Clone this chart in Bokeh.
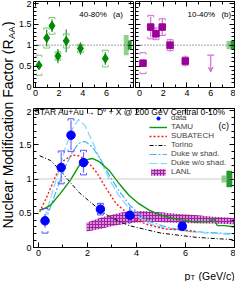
import numpy as np
from bokeh.plotting import figure
from bokeh.layouts import row, column
from bokeh.models import (Range1d, LinearAxis, FixedTicker, CustomJSTickFormatter, Label,
                          Legend, LegendItem, ColumnDataSource, Arrow, VeeHead, TeeHead, Span)
from bokeh.embed import file_html
from bokeh.resources import INLINE

FONT = "Liberation Sans"

# ---------------- data ----------------
# (a) 40-80%
a_pt = [0.3, 0.95, 1.4, 1.9, 2.6, 3.8, 5.9]
a_raa = [0.52, 1.17, 1.46, 0.74, 1.10, 0.92, 0.68]
a_stat = [0.08, 0.20, 0.15, 0.17, 0.27, 0.15, 0.15]
a_sys = [0.24, 0.24, 0.20, 0.10, 0.17, 0.10, 0.20]
a_norm_light = 0.24
a_norm_dark = 0.11

# (b) 10-40%
b_pt = [0.3, 0.95, 1.39, 1.92, 2.58, 3.86]
b_raa = [0.57, 1.43, 1.27, 1.43, 1.00, 0.62]
b_stat = [0.08, 0.25, 0.14, 0.20, 0.15, 0.13]
b_sys = [0.25, 0.28, 0.14, 0.20, 0.13, 0.10]
b_ul_pt = [6.0]
b_ul_top = [0.76]
b_ul_tip = [0.36]
b_norm_light = 0.10
b_norm_dark = 0.10

# (c) 0-10%
c_pt = [0.27, 0.93, 1.33, 1.84, 2.53, 3.73, 5.87]
c_raa = [0.39, 1.17, 1.64, 1.24, 0.56, 0.47, 0.31]
c_stat = [0.10, 0.22, 0.22, 0.15, 0.08, 0.13, 0.07]
c_sys = [0.18, 0.24, 0.24, 0.18, 0.085, 0.04, 0.05]
c_norm_light = 0.05
c_norm_dark = 0.12

tamu_pt = [0.05, 0.2, 0.5, 0.9, 1.3, 1.65, 1.95, 2.2, 2.5, 2.9, 3.3, 3.7, 4.1, 4.5, 5.0, 5.7, 6.4, 6.95, 7.15, 7.3, 7.6, 8.0]
tamu_raa = [0.55, 0.56, 0.62, 0.79, 0.98, 1.19, 1.28, 1.30, 1.25, 1.12, 0.93, 0.76, 0.64, 0.55, 0.47, 0.41, 0.37, 0.38, 0.42, 0.32, 0.32, 0.30]

subatech_pt = [0.05, 0.37, 0.71, 1.04, 1.37, 1.64, 1.97, 2.37, 2.77, 3.17, 3.57, 3.97, 4.5, 5.17, 5.84, 6.5]
subatech_raa = [0.52, 0.76, 1.05, 1.27, 1.35, 1.34, 1.27, 1.10, 0.86, 0.64, 0.52, 0.40, 0.33, 0.27, 0.26, 0.23]

torino_pt = [0.05, 0.5, 0.9, 1.3, 1.7, 2.1, 2.5, 2.9, 3.3, 3.7, 4.4, 5.0, 5.7, 6.4, 7.2, 8.0]
torino_raa = [1.34, 1.27, 1.12, 0.95, 0.79, 0.67, 0.55, 0.45, 0.38, 0.32, 0.26, 0.21, 0.18, 0.15, 0.13, 0.115]

duke_pt = [0.25, 0.5, 0.8, 1.1, 1.4, 1.64, 1.9, 2.2, 2.55, 2.9, 3.3, 3.7, 4.1, 4.6, 5.3, 6.1, 6.9, 8.0]
duke_w_raa = [0.36, 0.60, 0.90, 1.18, 1.40, 1.52, 1.55, 1.47, 1.28, 1.05, 0.82, 0.63, 0.49, 0.37, 0.29, 0.24, 0.22, 0.20]
duke_wo_raa = [0.42, 0.72, 1.08, 1.45, 1.74, 1.87, 1.78, 1.55, 1.26, 0.99, 0.75, 0.57, 0.44, 0.34, 0.27, 0.235, 0.21, 0.19]

lanl_pt = [1.97, 2.5, 2.97, 3.4, 3.7, 4.37, 5.04, 5.7, 6.37, 7.1, 8.0]
lanl_hi = [0.36, 0.43, 0.475, 0.51, 0.53, 0.53, 0.51, 0.49, 0.475, 0.45, 0.43]
lanl_lo = [0.235, 0.27, 0.31, 0.34, 0.355, 0.38, 0.37, 0.36, 0.355, 0.35, 0.34]

x_major = [0, 2, 4, 6, 8]
y_major = [0, 0.5, 1, 1.5, 2]


# ---------------- helpers ----------------
def style_axis(ax, ticks, minor, labels, size="9px"):
    ax.ticker = FixedTicker(ticks=ticks, minor_ticks=minor)
    ax.major_tick_in = 5
    ax.major_tick_out = 0
    ax.minor_tick_in = 3
    ax.minor_tick_out = 0
    ax.axis_line_color = None
    ax.major_tick_line_color = "black"
    ax.minor_tick_line_color = "black"
    ax.major_label_text_font = FONT
    ax.major_label_text_color = "black"
    if labels:
        ax.major_label_standoff = 2
        ax.major_label_text_font_size = size
    else:
        ax.major_label_standoff = 0
        ax.major_label_text_font_size = "0px"
        ax.formatter = CustomJSTickFormatter(code="return ''")


def make_panel(width, height, xr, yr, borders, xticks, xlab, ylab):
    p = figure(width=width, height=height, x_range=Range1d(*xr), y_range=Range1d(*yr),
               toolbar_location=None, output_backend="svg",
               min_border_left=borders[0], min_border_right=borders[1],
               min_border_top=borders[2], min_border_bottom=borders[3])
    p.grid.visible = False
    p.outline_line_color = "black"
    p.outline_line_width = 1
    p.background_fill_color = "white"
    p.border_fill_color = "white"
    xminor = [float(v) for v in np.arange(-1, 9.01, 1.0)]
    yminor = [float(v) for v in np.round(np.arange(0, 2.11, 0.1), 2)]
    style_axis(p.xaxis[0], xticks, xminor, xlab)
    style_axis(p.yaxis[0], y_major, yminor, ylab)
    top = LinearAxis()
    right = LinearAxis()
    style_axis(top, xticks, xminor, False)
    style_axis(right, y_major, yminor, False)
    p.add_layout(top, "above")
    p.add_layout(right, "right")
    return p


def draw_points(p, pt, raa, stat, sys, px_x, px_y, marker, size, color, stat_color, sys_color):
    pt = np.array(pt); raa = np.array(raa); stat = np.array(stat); sys = np.array(sys)
    p.segment(pt, raa - stat, pt, raa + stat, line_color=stat_color, line_width=1.2)
    w = 3.0 / px_x
    h = 2.0 / px_y
    xs, ys = [], []
    for x, y, s in zip(pt, raa, sys):
        xs.append([x - w, x - w, x + w, x + w]); ys.append([y + s - h, y + s, y + s, y + s - h])
        xs.append([x - w, x - w, x + w, x + w]); ys.append([y - s + h, y - s, y - s, y - s + h])
    p.multi_line(xs, ys, line_color=sys_color, line_width=1)
    return p.scatter(pt, raa, marker=marker, size=size, fill_color=color, line_color=color)


def norm_boxes(p, light, dark, xl, xd):
    p.quad(left=xl[0], right=xl[1], bottom=1 - light, top=1 + light,
           fill_color="#8fd08f", line_color=None)
    p.quad(left=xd[0], right=xd[1], bottom=1 - dark, top=1 + dark,
           fill_color="#1e9a2e", line_color=None)


def unity(p, col, dash):
    p.add_layout(Span(location=1, dimension="width", line_color=col, line_dash=dash, line_width=1))


def blank_fig(width, height):
    f = figure(width=width, height=height, x_range=Range1d(0, 1), y_range=Range1d(0, 1),
               x_axis_type=None, y_axis_type=None,
               toolbar_location=None, output_backend="svg", min_border=0)
    f.grid.visible = False
    f.outline_line_color = None
    return f


# ---------------- y label figure ----------------
lab = blank_fig(15, 281)
lab.add_layout(Label(x=7.5, y=53, x_units="screen", y_units="screen",
                     text="Nuclear Modification Factor (R",
                     angle=np.pi / 2, text_font=FONT, text_font_size="14px",
                     text_baseline="middle", text_align="left", text_color="black"))
lab.add_layout(Label(x=10.5, y=242.5, x_units="screen", y_units="screen", text="AA",
                     angle=np.pi / 2, text_font=FONT, text_font_size="9.5px",
                     text_baseline="middle", text_align="left", text_color="black"))
lab.add_layout(Label(x=7.5, y=255.5, x_units="screen", y_units="screen", text=")",
                     angle=np.pi / 2, text_font=FONT, text_font_size="14px",
                     text_baseline="middle", text_align="left", text_color="black"))

# ---------------- panel (a) ----------------
pa = make_panel(119, 108, (-0.164, 8.28), (-0.01, 2.04), (15, 1, 1, 21), [0, 2, 4, 6], True, True)
unity(pa, "#444444", "1 2")
norm_boxes(pa, a_norm_light, a_norm_dark, (7.46, 7.87), (7.8, 8.12))
draw_points(pa, a_pt, a_raa, a_stat, a_sys, 12.2, 42, "diamond", 9, "#008a00", "#1f8f1f", "#7cc47c")
pa.add_layout(Label(x=3.7, y=1.73, text="40-80%", text_font=FONT, text_font_size="8px",
                    text_baseline="middle", text_color="black"))
pa.add_layout(Label(x=6.55, y=1.73, text="(a)", text_font=FONT, text_font_size="8px",
                    text_baseline="middle", text_color="black"))

# ---------------- panel (b) ----------------
pb = make_panel(101, 108, (-0.33, 8.0), (-0.01, 2.04), (1, 1, 1, 21), x_major, True, False)
unity(pb, "#444444", "1 2")
norm_boxes(pb, b_norm_light, b_norm_dark, (7.33, 7.72), (7.68, 8.0))
draw_points(pb, b_pt, b_raa, b_stat, b_sys, 11.9, 42, "square", 6.5, "#9a009a", "#d070d0", "#d070d0")
ul_src = ColumnDataSource(dict(x=b_ul_pt, top=b_ul_top, tip=b_ul_tip))
pb.add_layout(Arrow(x_start="x", y_start="top", x_end="x", y_end="tip", source=ul_src,
                    line_color="#d070d0", line_width=1.2,
                    start=TeeHead(size=7, line_color="#d070d0", line_width=1.2),
                    end=VeeHead(size=5, fill_color="#d070d0", line_color="#d070d0")))
pb.add_layout(Label(x=4.05, y=1.73, text="10-40%", text_font=FONT, text_font_size="8px",
                    text_baseline="middle", text_color="black"))
pb.add_layout(Label(x=6.9, y=1.73, text="(b)", text_font=FONT, text_font_size="8px",
                    text_baseline="middle", text_color="black"))

# ---------------- panel (c) ----------------
pc = make_panel(220, 153, (-0.2, 8.0), (0.0, 2.03), (15, 1, 0, 14), x_major, True, True)
unity(pc, "#9a9a9a", "1 1")
norm_boxes(pc, c_norm_light, c_norm_dark, (7.47, 7.67), (7.67, 7.91))

r_lanl = pc.varea(x=lanl_pt, y1=lanl_lo, y2=lanl_hi, fill_color="#d890d8", fill_alpha=1.0,
                  hatch_pattern="+", hatch_color="#a020a0", hatch_scale=3, hatch_weight=1)
r_torino = pc.line(torino_pt, torino_raa, line_color="black", line_dash="4 2 1 2", line_width=1)
r_duke_w = pc.line(duke_pt, duke_w_raa, line_color="#44b4f0", line_dash="7 2 2 2", line_width=1.2)
r_duke_wo = pc.line(duke_pt, duke_wo_raa, line_color="#7fd6ff", line_dash="8 3", line_width=1.2)
r_sub = pc.line(subatech_pt, subatech_raa, line_color="#ff1a1a", line_dash="2 2", line_width=1.4)
r_tamu = pc.line(tamu_pt, tamu_raa, line_color="#0a9a0a", line_width=1.4)
r_data = draw_points(pc, c_pt, c_raa, c_stat, c_sys, 24.9, 69.5, "circle", 8.5, "#0000ff",
                     "#6a6aff", "#5050ff")

legend = Legend(items=[
    LegendItem(label="data", renderers=[r_data]),
    LegendItem(label="TAMU", renderers=[r_tamu]),
    LegendItem(label="SUBATECH", renderers=[r_sub]),
    LegendItem(label="Torino", renderers=[r_torino]),
    LegendItem(label="Duke w shad.", renderers=[r_duke_w]),
    LegendItem(label="Duke w/o shad.", renderers=[r_duke_wo]),
    LegendItem(label="LANL", renderers=[r_lanl]),
], location=(116, 71), orientation="vertical")
legend.label_text_font = FONT
legend.label_text_font_size = "8px"
legend.label_text_line_height = 1.0
legend.label_height = 8
legend.glyph_height = 8
legend.glyph_width = 18
legend.label_standoff = 4
legend.spacing = -3
legend.padding = 0
legend.margin = 0
legend.border_line_color = None
legend.background_fill_alpha = 0
pc.add_layout(legend)

pc.add_layout(Label(x=-0.18, y=1.975, text="STAR Au+Au \u2192 D\u2070 + X @ 200 GeV Central 0-10%",
                    text_font=FONT, text_font_size="8.5px", text_baseline="middle",
                    text_color="black"))
pc.add_layout(Label(x=7.35, y=1.77, text="(c)", text_font=FONT, text_font_size="9px",
                    text_baseline="middle", text_color="black"))

# ---------------- x title strip ----------------
pt_fig = blank_fig(220, 20)
pt_fig.add_layout(Label(x=151, y=6, x_units="screen", y_units="screen", text="p",
                        text_font=FONT, text_font_size="10.5px", text_baseline="alphabetic",
                        text_color="black"))
pt_fig.add_layout(Label(x=157, y=4, x_units="screen", y_units="screen", text="T",
                        text_font=FONT, text_font_size="7.5px", text_baseline="alphabetic",
                        text_color="black"))
pt_fig.add_layout(Label(x=165, y=6, x_units="screen", y_units="screen", text="(GeV/c)",
                        text_font=FONT, text_font_size="10.5px", text_baseline="alphabetic",
                        text_color="black"))

layout = row(lab, column(row(pa, pb), pc, pt_fig))
open("out.html", "w").write(file_html(layout, INLINE))
